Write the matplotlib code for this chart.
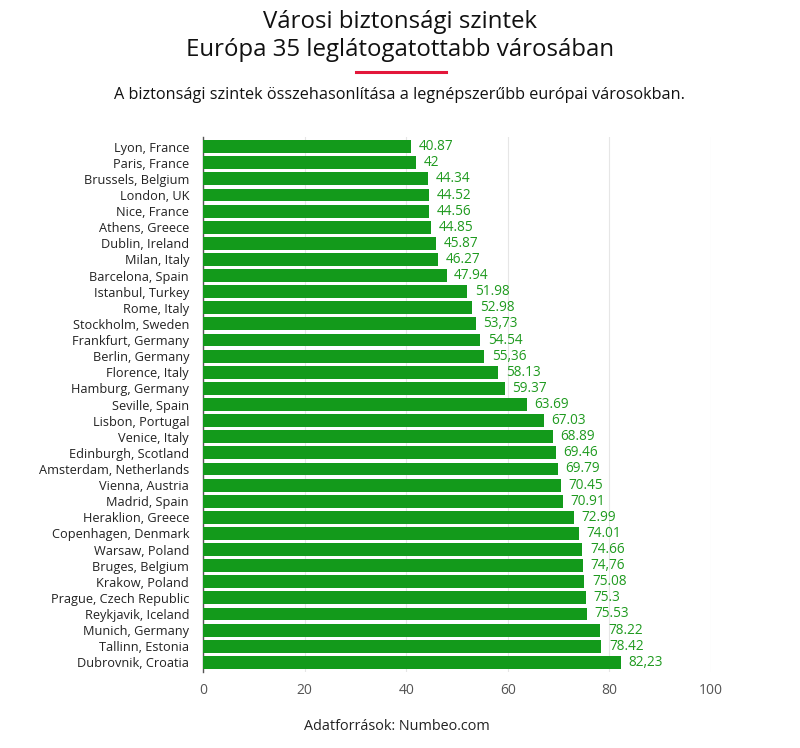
import matplotlib
matplotlib.use("Agg")
import matplotlib.pyplot as plt
from matplotlib.lines import Line2D

plt.rcParams['font.family'] = ['Open Sans', 'DejaVu Sans']

cities = ["Lyon, France", "Paris, France", "Brussels, Belgium", "London, UK", "Nice, France",
          "Athens, Greece", "Dublin, Ireland", "Milan, Italy", "Barcelona, Spain", "Istanbul, Turkey",
          "Rome, Italy", "Stockholm, Sweden", "Frankfurt, Germany", "Berlin, Germany", "Florence, Italy",
          "Hamburg, Germany", "Seville, Spain", "Lisbon, Portugal", "Venice, Italy", "Edinburgh, Scotland",
          "Amsterdam, Netherlands", "Vienna, Austria", "Madrid, Spain", "Heraklion, Greece",
          "Copenhagen, Denmark", "Warsaw, Poland", "Bruges, Belgium", "Krakow, Poland",
          "Prague, Czech Republic", "Reykjavik, Iceland", "Munich, Germany", "Tallinn, Estonia",
          "Dubrovnik, Croatia"]
values = [40.87, 42, 44.34, 44.52, 44.56, 44.85, 45.87, 46.27, 47.94, 51.98, 52.98, 53.73, 54.54,
          55.36, 58.13, 59.37, 63.69, 67.03, 68.89, 69.46, 69.79, 70.45, 70.91, 72.99, 74.01,
          74.66, 74.76, 75.08, 75.3, 75.53, 78.22, 78.42, 82.23]
value_labels = ["40.87", "42", "44.34", "44.52", "44.56", "44.85", "45.87", "46.27", "47.94",
                "51.98", "52.98", "53,73", "54.54", "55,36", "58.13", "59.37", "63.69", "67.03",
                "68.89", "69.46", "69.79", "70.45", "70.91", "72.99", "74.01", "74.66", "74,76",
                "75.08", "75.3", "75.53", "78.22", "78.42", "82,23"]
xticks = [0, 20, 40, 60, 80, 100]

fig = plt.figure(figsize=(8, 7.48), dpi=100)
n = len(cities)
y_top_px, y_bot_px = 137, 672
ax = fig.add_axes([203/800, 1 - y_bot_px/748, (711-203)/800, (y_bot_px - y_top_px)/748])

bar_color = "#139a1b"
pos = list(range(n))
ax.barh(pos, values, height=0.8, color=bar_color, zorder=3)
for p, v, lab in zip(pos, values, value_labels):
    ax.annotate(lab, xy=(v, p), xytext=(5.5, 0), textcoords="offset points",
                va="center", ha="left", fontsize=9.8, color="#1f9a1f", zorder=4)

ax.set_xlim(0, 100)
ax.set_ylim(n - 0.4, -0.6)
ax.set_yticks(pos)
ax.set_yticklabels(cities, fontsize=9.2, color="#222222")
ax.set_xticks(xticks)
ax.set_xticklabels([str(t) for t in xticks], fontsize=10, color="#555555")
ax.tick_params(axis="both", length=0)
ax.tick_params(axis="y", pad=10)
ax.tick_params(axis="x", pad=8)
ax.grid(axis="x", color="#e6e6e6", linewidth=0.8, zorder=0)
for s in ["top", "right", "bottom"]:
    ax.spines[s].set_visible(False)
ax.spines["left"].set_color("#555555")
ax.spines["left"].set_linewidth(1.0)

fig.text(0.5, 1 - 22/748, "Városi biztonsági szintek", ha="center", va="center",
         fontsize=17.3, color="#111111")
fig.text(0.5, 1 - 50/748, "Európa 35 leglátogatottabb városában", ha="center", va="center",
         fontsize=17.3, color="#111111")
fig.add_artist(Line2D([356/800, 446/800], [1 - 72/748, 1 - 72/748], color="#e3173a",
                      linewidth=2.2, transform=fig.transFigure))
fig.text(0.5, 1 - 95/748, "A biztonsági szintek összehasonlítása a legnépszerűbb európai városokban.",
         ha="center", va="center", fontsize=11.7, color="#111111")
fig.text(397/800, 1 - 727/748, "Adatforrások: Numbeo.com", ha="center", va="center",
         fontsize=10.4, color="#222222")

fig.savefig("out.png", dpi=100, facecolor="white")
